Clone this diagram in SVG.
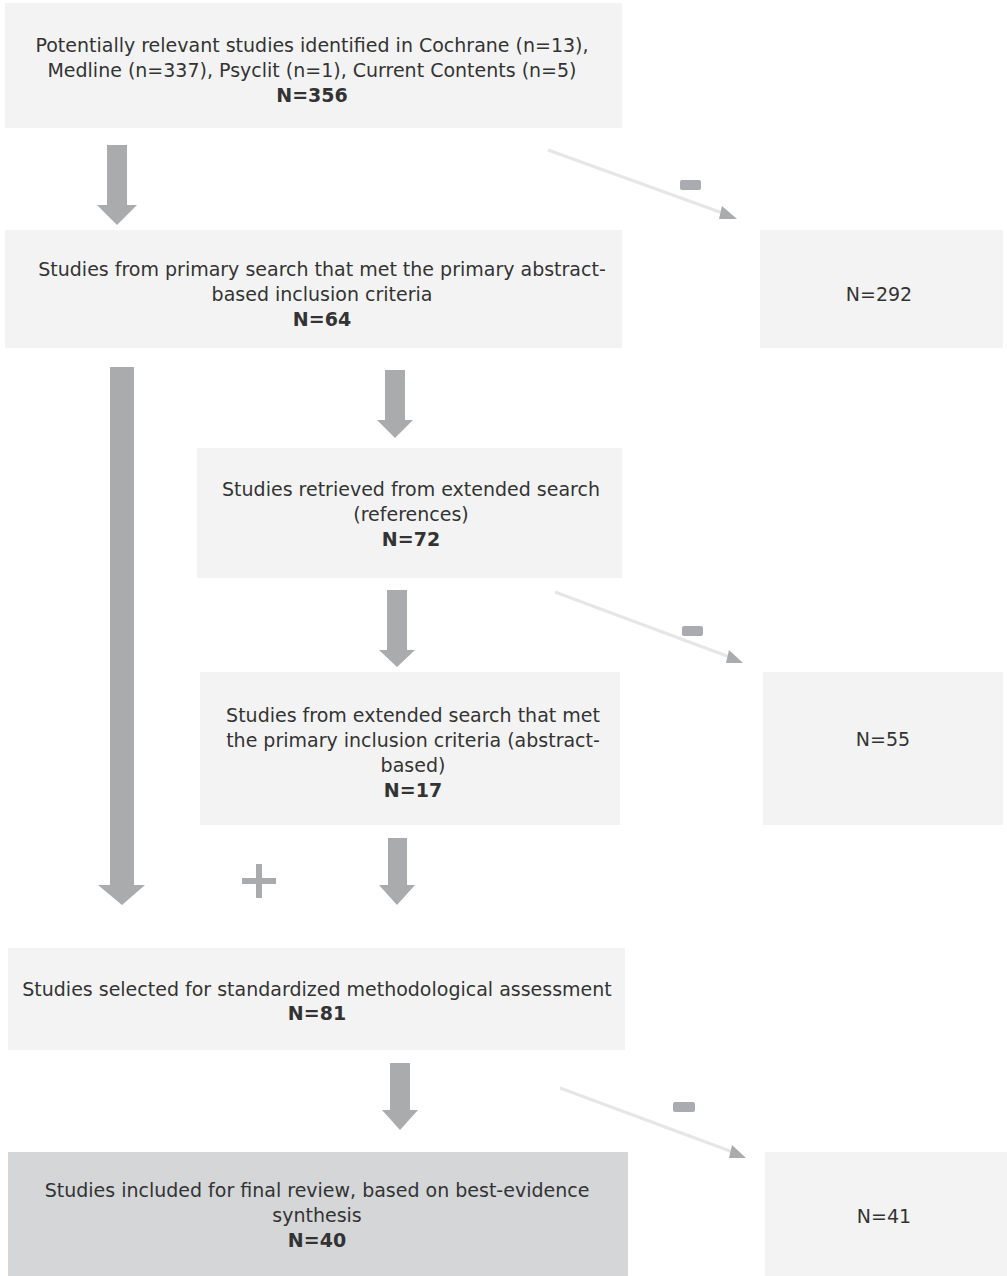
<svg xmlns="http://www.w3.org/2000/svg" width="1007" height="1276" viewBox="0 0 1007 1276">
<defs>
<style>
.box{fill:#f3f3f3}
.dark{fill:#d5d6d8}
.t{font-family:"DejaVu Sans","Noto Sans",sans-serif;font-size:19px;fill:#333333;text-anchor:middle}
.b{font-weight:bold}
.arr{fill:#a9abad}
.diag{stroke:#e6e6e6;stroke-width:3;fill:none}
.minus{fill:#a9abb0}
</style>
</defs>
<rect width="1007" height="1276" fill="#ffffff"/>

<g id="n1">
<rect class="box" x="5" y="3" width="617" height="125"/>
<text class="t" x="312" y="52">Potentially relevant studies identified in Cochrane (n=13),</text>
<text class="t" x="312" y="77">Medline (n=337), Psyclit (n=1), Current Contents (n=5)</text>
<text class="t b" x="312" y="102">N=356</text>
</g>

<g id="n2">
<rect class="box" x="5" y="230" width="617" height="118"/>
<text class="t" x="322" y="276">Studies from primary search that met the primary abstract-</text>
<text class="t" x="322" y="301">based inclusion criteria</text>
<text class="t b" x="322" y="326">N=64</text>
</g>

<g id="n2x">
<rect class="box" x="760" y="230" width="243" height="118"/>
<text class="t" x="879" y="301">N=292</text>
</g>

<g id="n3">
<rect class="box" x="197" y="448" width="425" height="130"/>
<text class="t" x="411" y="496">Studies retrieved from extended search</text>
<text class="t" x="411" y="521">(references)</text>
<text class="t b" x="411" y="546">N=72</text>
</g>

<g id="n4">
<rect class="box" x="200" y="672" width="420" height="153"/>
<text class="t" x="413" y="722">Studies from extended search that met</text>
<text class="t" x="413" y="747">the primary inclusion criteria (abstract-</text>
<text class="t" x="413" y="772">based)</text>
<text class="t b" x="413" y="797">N=17</text>
</g>

<g id="n4x">
<rect class="box" x="763" y="672" width="240" height="153"/>
<text class="t" x="883" y="746">N=55</text>
</g>

<g id="n5">
<rect class="box" x="8" y="948" width="617" height="102"/>
<text class="t" x="317" y="996">Studies selected for standardized methodological assessment</text>
<text class="t b" x="317" y="1020">N=81</text>
</g>

<g id="n6">
<rect class="dark" x="8" y="1152" width="620" height="124"/>
<text class="t" x="317" y="1197">Studies included for final review, based on best-evidence</text>
<text class="t" x="317" y="1222">synthesis</text>
<text class="t b" x="317" y="1247">N=40</text>
</g>

<g id="n6x">
<rect class="box" x="765" y="1152" width="242" height="124"/>
<text class="t" x="884" y="1223">N=41</text>
</g>

<g id="connectors">
<path class="arr" d="M107,145 H127 V205 H137 L117,225 L97,205 H107 Z"/>
<path class="diag" d="M548,150 L728,215"/>
<path d="M722,206 L737,219 L719,219 Z" fill="#a9abad"/>
<rect class="minus" x="680" y="180" width="21" height="10" rx="2"/>

<path class="arr" d="M110,367 H134 V885 H145 L122,905 L98,885 H110 Z"/>
<path class="arr" d="M385,370 H405 V420 H413 L395,438 L377,420 H385 Z"/>
<path class="arr" d="M387,590 H407 V650 H415 L397,667 L379,650 H387 Z"/>
<path class="diag" d="M555,592 L735,659"/>
<path d="M729,650 L743,663 L726,663 Z" fill="#a9abad"/>
<rect class="minus" x="682" y="626" width="21" height="10" rx="2"/>

<path class="arr" d="M256,864 H262 V878 H276 V884 H262 V898 H256 V884 H242 V878 H256 Z"/>
<path class="arr" d="M388,838 H407 V885 H415 L397,905 L379,885 H388 Z"/>

<path class="arr" d="M390,1063 H410 V1110 H418 L400,1130 L382,1110 H390 Z"/>
<path class="diag" d="M560,1088 L738,1154"/>
<path d="M732,1145 L746,1158 L729,1158 Z" fill="#a9abad"/>
<rect class="minus" x="673" y="1102" width="22" height="10" rx="2"/>
</g>
</svg>
